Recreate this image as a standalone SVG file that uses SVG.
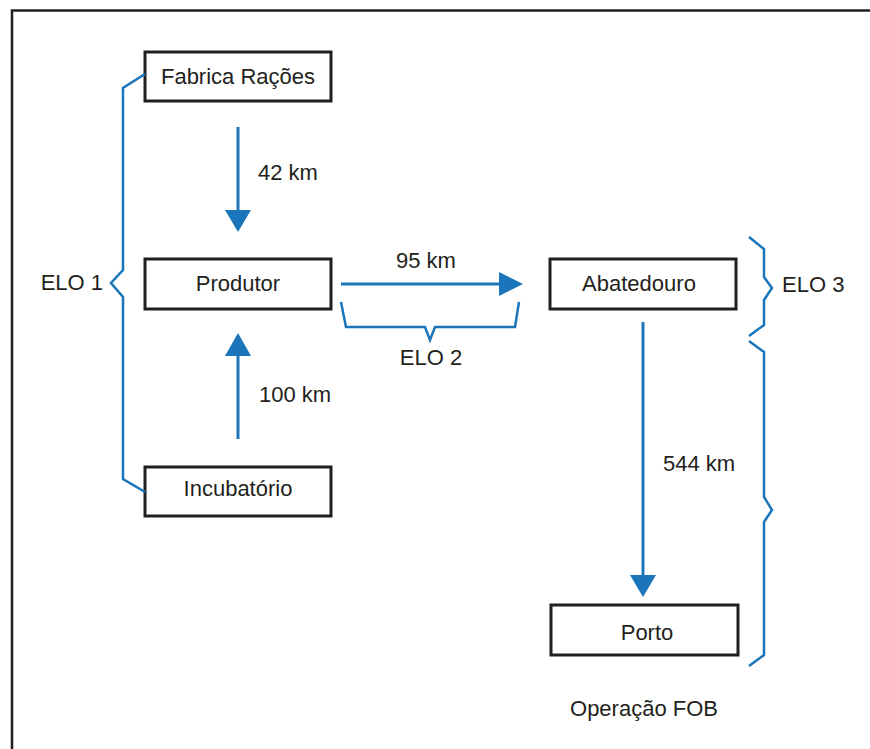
<svg xmlns="http://www.w3.org/2000/svg" width="870" height="749" viewBox="0 0 870 749">
<defs>
<style>
.box{fill:#fff;stroke:#231f20;stroke-width:3}
.t{font-family:"Liberation Sans",Arial,sans-serif;font-size:22px;fill:#231f20}
.c{text-anchor:middle}
.e{text-anchor:end}
.ln{fill:none;stroke:#1a75bb;stroke-width:3}
.br{fill:none;stroke:#1a75bb;stroke-width:2.5;stroke-linejoin:miter}
.hd{fill:#1a75bb}
</style>
</defs>
<rect width="870" height="749" fill="#fff"/>
<path d="M12,749 V10.5 H870" fill="none" stroke="#231f20" stroke-width="2.5"/>

<g id="fabrica"><rect class="box" x="145" y="52" width="186" height="49"/><text class="t c" x="238" y="84">Fabrica Rações</text></g>
<g id="produtor"><rect class="box" x="145" y="259" width="186" height="50"/><text class="t c" x="238" y="291">Produtor</text></g>
<g id="incubatorio"><rect class="box" x="145" y="467" width="186" height="49"/><text class="t c" x="238" y="496">Incubatório</text></g>
<g id="abatedouro"><rect class="box" x="550" y="259" width="186" height="50"/><text class="t c" x="639" y="291">Abatedouro</text></g>
<g id="porto"><rect class="box" x="551" y="605" width="187" height="50"/><text class="t c" x="647" y="640">Porto</text></g>

<g id="connectors">
<line class="ln" x1="238" y1="127" x2="238" y2="211"/>
<polygon class="hd" points="225,210 251,210 238,232"/>
<line class="ln" x1="238" y1="439" x2="238" y2="354"/>
<polygon class="hd" points="225,356 251,356 238,333"/>
<line class="ln" x1="341" y1="284" x2="501" y2="284"/>
<polygon class="hd" points="499,272 499,296 523,284"/>
<line class="ln" x1="643" y1="322" x2="643" y2="576"/>
<polygon class="hd" points="630,575 656,575 643,597"/>
</g>

<g id="braces">
<path class="br" d="M145,74 L123,88 V270 L111,283 L123,297 V479 L145,492"/>
<path class="br" d="M341,302 L346,327 H425 L430,340 L435,327 H515 L519,302"/>
<path class="br" d="M749,237 L764,249 V277 L772,288 L764,300 V325 L749,336"/>
<path class="br" d="M749,341 L764,352 V497 L772,510 L764,522 V655 L749,666"/>
</g>

<g id="labels">
<text class="t" x="258" y="180">42 km</text>
<text class="t" x="259" y="402">100 km</text>
<text class="t c" x="426" y="268">95 km</text>
<text class="t" x="663" y="471">544 km</text>
<text class="t e" x="103" y="290">ELO 1</text>
<text class="t c" x="431" y="365">ELO 2</text>
<text class="t" x="782" y="292">ELO 3</text>
<text class="t c" x="644" y="716">Operação FOB</text>
</g>
</svg>
